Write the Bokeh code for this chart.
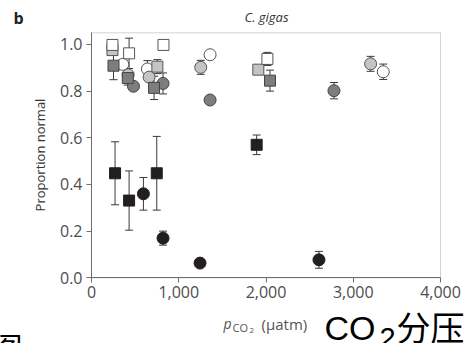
from bokeh.plotting import figure
from bokeh.models import (ColumnDataSource, Whisker, TeeHead, Label, FixedTicker,
                          Range1d, BoxAnnotation)
from bokeh.embed import file_html
from bokeh.resources import INLINE

# ---- data ----
black_sq_x = [270, 431, 748, 1893]
black_sq_y = [0.448, 0.331, 0.448, 0.570]
black_sq_e = [0.135, 0.127, 0.158, 0.042]

black_ci_x = [595, 820, 1244, 2607]
black_ci_y = [0.360, 0.170, 0.063, 0.077]
black_ci_e = [0.070, 0.030, 0.0, 0.036]

dark_sq_x = [252, 416, 717, 2046]
dark_sq_y = [0.909, 0.856, 0.814, 0.845]
dark_sq_e = [0.060, 0.030, 0.050, 0.045]

dark_ci_x = [481, 820, 1359, 2779]
dark_ci_y = [0.821, 0.833, 0.762, 0.802]
dark_ci_e = [0.0, 0.045, 0.010, 0.035]

light_sq_x = [240, 755, 1912]
light_sq_y = [0.976, 0.905, 0.892]
light_sq_e = [0.0, 0.030, 0.0]

light_ci_x = [420, 660, 1252, 3199]
light_ci_y = [0.870, 0.860, 0.902, 0.917]
light_ci_e = [0.0, 0.0, 0.030, 0.032]

white_sq_x = [240, 431, 825, 2016]
white_sq_y = [0.998, 0.962, 0.998, 0.938]
white_sq_e = [0.0, 0.065, 0.0, 0.028]

white_ci_x = [358, 641, 1359, 3344]
white_ci_y = [0.915, 0.895, 0.956, 0.883]
white_ci_e = [0.0, 0.036, 0.0, 0.033]

x_ticks = [0, 1000, 2000, 3000, 4000]
x_tick_labels = {0: "0", 1000: "1,000", 2000: "2,000", 3000: "3,000", 4000: "4,000"}
y_ticks = [0.0, 0.2, 0.4, 0.6, 0.8, 1.0]

# axis extents of the data box
X0, X1 = 0, 4000
Y0, Y1 = 0, 1.05

# canvas and where the data box sits on it (pixels)
W, H = 465, 343
FL, FR, FT, FB = 91, 440, 32.3, 277.3

kx = (X1 - X0) / (FR - FL)
ky = (Y1 - Y0) / (FB - FT)
x_range = Range1d(X0 - FL * kx, X1 + (W - FR) * kx)
y_range = Range1d(Y0 - (H - FB) * ky, Y1 + FT * ky)

p = figure(width=W, height=H, output_backend="svg", toolbar_location=None,
           x_range=x_range, y_range=y_range,
           min_border_left=0, min_border_right=0, min_border_top=0, min_border_bottom=0)
p.background_fill_color = "white"
p.border_fill_color = "white"
p.grid.visible = False
p.outline_line_color = None

AX = "#6e6e6e"
for ax in (p.xaxis, p.yaxis):
    ax.axis_line_color = AX
    ax.major_tick_line_color = AX
    ax.minor_tick_line_color = None
    ax.major_tick_in = 0
    ax.major_tick_out = 5
    ax.major_label_text_font = "Open Sans"
    ax.major_label_text_font_size = "16px"
    ax.major_label_text_color = "#4d4d4d"

p.xaxis.fixed_location = Y0
p.xaxis.bounds = (X0, X1)
p.xaxis.ticker = FixedTicker(ticks=x_ticks)
p.xaxis.major_label_overrides = x_tick_labels
p.xaxis.major_label_standoff = 3

p.yaxis.fixed_location = X0
p.yaxis.bounds = (Y0, Y1)
p.yaxis.ticker = FixedTicker(ticks=y_ticks)
p.yaxis.major_label_overrides = {t: f"{t:.1f}" for t in y_ticks}
p.yaxis.major_label_standoff = 4
p.yaxis.axis_label = "Proportion normal"
p.yaxis.axis_label_text_font = "Open Sans"
p.yaxis.axis_label_text_font_size = "13px"
p.yaxis.axis_label_text_font_style = "normal"
p.yaxis.axis_label_text_color = "#333333"
p.yaxis.axis_label_standoff = 8

# box around the data area
p.add_layout(BoxAnnotation(left=X0, right=X1, bottom=Y0, top=Y1, fill_alpha=0,
                           line_color=AX, line_width=1, level="underlay"))

EDGE = "#3a3a3a"
series = [
    (white_ci_x, white_ci_y, white_ci_e, "circle", "white", "#555555", 12),
    (light_ci_x, light_ci_y, light_ci_e, "circle", "#c4c4c4", "#555555", 12),
    (dark_ci_x, dark_ci_y, dark_ci_e, "circle", "#7d7d7d", "#444444", 12),
    (light_sq_x, light_sq_y, light_sq_e, "square", "#c4c4c4", "#555555", 11),
    (white_sq_x, white_sq_y, white_sq_e, "square", "white", "#555555", 11),
    (dark_sq_x, dark_sq_y, dark_sq_e, "square", "#7d7d7d", "#444444", 11),
    (black_ci_x, black_ci_y, black_ci_e, "circle", "#231f20", "#231f20", 12),
    (black_sq_x, black_sq_y, black_sq_e, "square", "#231f20", "#231f20", 11),
]

for xs, ys, es, mk, fill, line, size in series:
    ex = [x for x, e in zip(xs, es) if e > 0]
    ey = [y for y, e in zip(ys, es) if e > 0]
    ee = [e for e in es if e > 0]
    if ex:
        src = ColumnDataSource(dict(x=ex, upper=[y + e for y, e in zip(ey, ee)],
                                    lower=[y - e for y, e in zip(ey, ee)]))
        w = Whisker(base="x", upper="upper", lower="lower", source=src,
                    line_color=EDGE, line_width=1, level="underlay",
                    upper_head=TeeHead(size=8, line_color=EDGE, line_width=1),
                    lower_head=TeeHead(size=8, line_color=EDGE, line_width=1))
        p.add_layout(w)
    p.scatter(xs, ys, marker=mk, size=size, fill_color=fill, line_color=line, line_width=1)


def lab(text, px, py, size, font="Open Sans", style="normal", color="#333333",
        align="left", baseline="alphabetic", angle=0.0):
    # px, py: canvas pixels from the top-left corner
    p.add_layout(Label(x=px, y=H - py, x_units="screen", y_units="screen", text=text,
                       text_font=font, text_font_size=size, text_font_style=style,
                       text_color=color, text_align=align, text_baseline=baseline,
                       angle=angle))


lab("b", 13, 17, "16px", style="bold", color="#222222")
lab("C. gigas", 266, 16, "13px", style="italic", color="#333333", align="center")

lab("p", 223, 323, "14px", style="italic", color="#555555")
lab("CO", 232, 327, "11px", color="#555555")
lab("2", 249, 330, "8px", color="#555555")
lab("(\u03bcatm)", 261, 323, "15px", color="#555555")

lab("CO", 324, 327, "34px", font="Liberation Sans", color="#000000")
lab("2", 379, 337, "29px", font="Liberation Sans", color="#000000")
lab("分压", 396, 326, "34px", font="Noto Sans CJK SC", color="#000000")
lab("图", -8, 345, "30px", font="Noto Sans CJK SC", color="#000000")

open("out.html", "w").write(file_html(p, INLINE))
